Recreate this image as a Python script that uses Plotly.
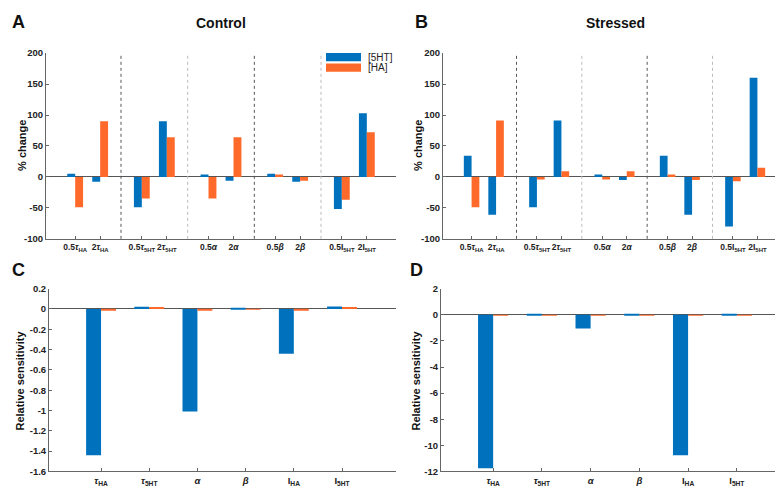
import plotly.graph_objects as go

# ---------------- data ----------------
pert_labels = [
    "0.5<i>τ</i><sub>HA</sub>", "2<i>τ</i><sub>HA</sub>",
    "0.5<i>τ</i><sub>5HT</sub>", "2<i>τ</i><sub>5HT</sub>",
    "0.5<i>α</i>", "2<i>α</i>",
    "0.5<i>β</i>", "2<i>β</i>",
    "0.5I<sub>5HT</sub>", "2I<sub>5HT</sub>",
]
pert_x = [0, 3, 8, 11, 16, 19, 24, 27, 32, 35]
dividers = [5.5, 13.5, 21.5, 29.5]

control_5ht = [5, -8, -49, 90, 4, -6, 5, -8, -52, 103]
control_ha = [-49, 90, -35, 64, -35, 64, 4, -6, -37, 72]
stressed_5ht = [34, -61, -49, 91, 4, -5, 34, -61, -80, 160]
stressed_ha = [-49, 91, -4, 9, -4, 9, 4, -5, -7, 15]

param_labels = ["<i>τ</i><sub>HA</sub>", "<i>τ</i><sub>5HT</sub>", "<i>α</i>", "<i>β</i>",
                "I<sub>HA</sub>", "I<sub>5HT</sub>"]
param_x = [1, 2, 3, 4, 5, 6]
sens_control_5ht = [-1.44, 0.022, -1.01, 0.006, -0.44, 0.025]
sens_control_ha = [-0.008, 0.02, -0.008, -0.006, -0.008, 0.02]
sens_stressed_5ht = [-11.75, 0.06, -1.05, 0.04, -10.75, 0.06]
sens_stressed_ha = [-0.06, -0.05, -0.06, -0.06, -0.06, -0.06]

BLUE = "#0072BD"
ORANGE = "#FF6A2B"
AXC = "#666666"
FONT = "Liberation Sans"

W, H = 783, 488

def px_x(p):
    return p / W

def px_y(p):
    return 1 - p / H

fig = go.Figure()

def add_pair(xs, a, b, w, xa, ya):
    fig.add_trace(go.Bar(x=xs, y=a, width=w, offset=-w, marker_color=BLUE,
                         marker_line_width=0, xaxis=xa, yaxis=ya, showlegend=False,
                         name="[5HT]"))
    fig.add_trace(go.Bar(x=xs, y=b, width=w, offset=0, marker_color=ORANGE,
                         marker_line_width=0, xaxis=xa, yaxis=ya, showlegend=False,
                         name="[HA]"))

add_pair(pert_x, control_5ht, control_ha, 0.95, "x", "y")
add_pair(pert_x, stressed_5ht, stressed_ha, 0.95, "x2", "y2")
add_pair(param_x, sens_control_5ht, sens_control_ha, 0.31, "x3", "y3")
add_pair(param_x, sens_stressed_5ht, sens_stressed_ha, 0.31, "x4", "y4")

ytickfont = dict(family=FONT, size=9.5, color="#222", weight="bold")
xtickfont_top = dict(family=FONT, size=8.5, color="#222", weight="bold")
xtickfont_bot = dict(family=FONT, size=9.5, color="#222", weight="bold")

def xax(domain, rng, vals, text, anchor, font):
    return dict(domain=domain, range=rng, tickvals=vals, ticktext=text, ticks="inside",
                ticklen=3, tickcolor=AXC, showline=True, linecolor=AXC, linewidth=1,
                showgrid=False, zeroline=False, tickfont=font, anchor=anchor,
                tickangle=0, fixedrange=True)

def yax(domain, rng, vals, text, anchor):
    return dict(domain=domain, range=rng, tickvals=vals, ticktext=text, ticks="inside",
                ticklen=3, tickcolor=AXC, showline=True, linecolor=AXC, linewidth=1,
                showgrid=False, zeroline=True, zerolinecolor="#555", zerolinewidth=1,
                tickfont=ytickfont, anchor=anchor, fixedrange=True)

pct_vals = [-100, -50, 0, 50, 100, 150, 200]
pct_text = [str(v) for v in pct_vals]
c_vals = [0.2, 0, -0.2, -0.4, -0.6, -0.8, -1, -1.2, -1.4, -1.6]
c_text = ["0.2", "0", "-0.2", "-0.4", "-0.6", "-0.8", "-1", "-1.2", "-1.4", "-1.6"]
d_vals = [2, 0, -2, -4, -6, -8, -10, -12]
d_text = [str(v) for v in d_vals]

top_dom = [px_y(230), px_y(40)]
bot_dom = [px_y(468), px_y(281)]

fig.update_layout(
    width=W, height=H, margin=dict(l=0, r=0, t=0, b=0),
    paper_bgcolor="white", plot_bgcolor="white", barmode="overlay",
    font=dict(family=FONT, color="#222"),
    xaxis=xax([px_x(38), px_x(388)], [-3.5, 38.5], pert_x, pert_labels, "y", xtickfont_top),
    yaxis=yax(top_dom, [-100, 200], pct_vals, pct_text, "x"),
    xaxis2=xax([px_x(435), px_x(778)], [-3.5, 38.5], pert_x, pert_labels, "y2", xtickfont_top),
    yaxis2=yax(top_dom, [-100, 200], pct_vals, pct_text, "x2"),
    xaxis3=xax([px_x(41), px_x(388)], [-0.08, 7.12], param_x, param_labels, "y3", xtickfont_bot),
    yaxis3=yax(bot_dom, [-1.6, 0.2], c_vals, c_text, "x3"),
    xaxis4=xax([px_x(433), px_x(780)], [-0.07, 7.05], param_x, param_labels, "y4", xtickfont_bot),
    yaxis4=yax(bot_dom, [-12, 2], d_vals, d_text, "x4"),
)

# group dividers
div_styles = ["#555555", "#bbbbbb", "#555555", "#bbbbbb"]
for xa, ya in (("x", "y"), ("x2", "y2")):
    for d, c in zip(dividers, div_styles):
        fig.add_shape(type="line", xref=xa, yref=f"{ya} domain", x0=d, x1=d, y0=0, y1=1,
                      line=dict(color=c, width=1, dash="dot"))

# legend (drawn in panel A)
for i, (name, col) in enumerate((("[5HT]", BLUE), ("[HA]", ORANGE))):
    y0 = 40 + i * 10.7
    fig.add_shape(type="rect", xref="paper", yref="paper",
                  x0=px_x(318), x1=px_x(353), y0=px_y(y0 + 8.3), y1=px_y(y0),
                  fillcolor=col, line=dict(width=0))
    fig.add_annotation(xref="paper", yref="paper", x=px_x(358), y=px_y(y0 + 4.2),
                       text=name, showarrow=False, xanchor="left", yanchor="middle",
                       font=dict(family=FONT, size=10, color="#222"))

letter_font = dict(family=FONT, size=18, color="#111", weight="bold")
for txt, x, y in (("A", 2, 8), ("B", 405, 8), ("C", 2, 262), ("D", 400, 262)):
    fig.add_annotation(xref="paper", yref="paper", x=px_x(x), y=px_y(y), text=txt,
                       showarrow=False, xanchor="left", yanchor="middle", font=letter_font)

title_font = dict(family=FONT, size=14, color="#111", weight="bold")
for txt, x in (("Control", 213), ("Stressed", 607)):
    fig.add_annotation(xref="paper", yref="paper", x=px_x(x), y=px_y(9), text=txt,
                       showarrow=False, xanchor="center", yanchor="middle", font=title_font)

ylab_font = dict(family=FONT, size=11, color="#111", weight="bold")
for txt, x, y in (("% change", 14, 135), ("% change", 410, 135),
                  ("Relative sensitivity", 12, 375), ("Relative sensitivity", 408, 375)):
    fig.add_annotation(xref="paper", yref="paper", x=px_x(x), y=px_y(y), text=txt,
                       showarrow=False, textangle=-90, xanchor="center", yanchor="middle",
                       font=ylab_font)

fig.write_html("out.html")
